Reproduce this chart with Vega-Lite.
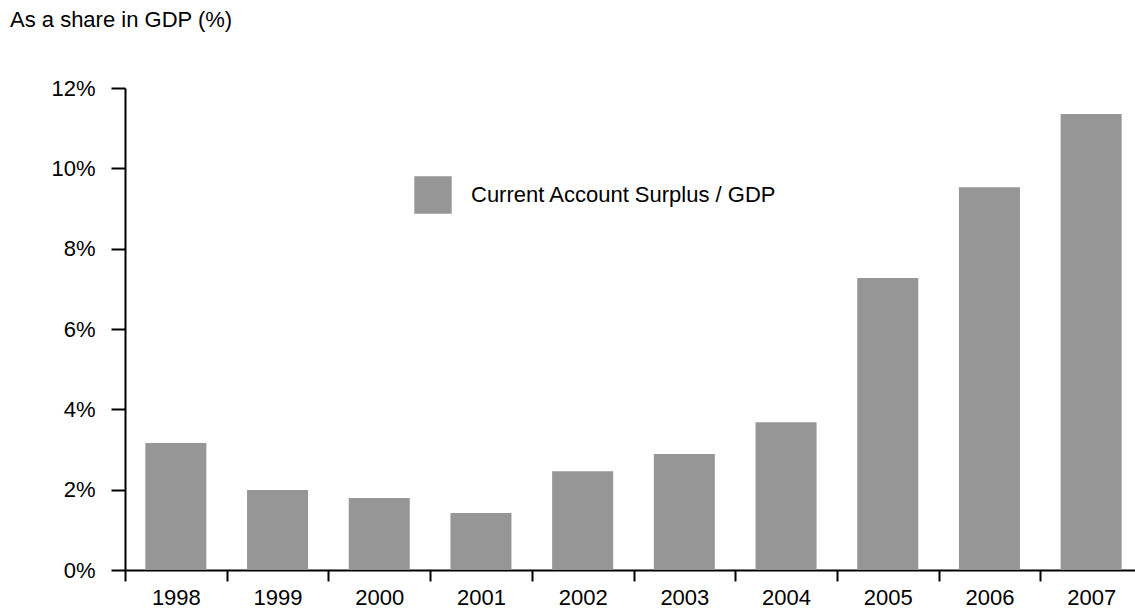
{
  "$schema": "https://vega.github.io/schema/vega-lite/v6.json",
  "autosize": "none",
  "width": 1010,
  "height": 482,
  "padding": {"left": 125, "top": 88, "right": 0, "bottom": 39},
  "background": "white",
  "config": {
    "font": "Liberation Sans",
    "view": {"stroke": null},
    "axis": {"grid": false, "domainColor": "#000000", "tickColor": "#000000", "domainWidth": 2, "tickWidth": 2, "labelColor": "#000000", "labelFontSize": 22, "labelFont": "Liberation Sans"}
  },
  "title": {
    "text": "As a share in GDP (%)",
    "anchor": "start",
    "frame": "group",
    "dx": -115,
    "offset": 45,
    "fontSize": 22,
    "fontWeight": "normal",
    "color": "#000000",
    "font": "Liberation Sans"
  },
  "data": {
    "values": [
      {"year": "1998", "share": 3.16, "series": "Current Account Surplus / GDP"},
      {"year": "1999", "share": 1.99, "series": "Current Account Surplus / GDP"},
      {"year": "2000", "share": 1.79, "series": "Current Account Surplus / GDP"},
      {"year": "2001", "share": 1.42, "series": "Current Account Surplus / GDP"},
      {"year": "2002", "share": 2.46, "series": "Current Account Surplus / GDP"},
      {"year": "2003", "share": 2.89, "series": "Current Account Surplus / GDP"},
      {"year": "2004", "share": 3.68, "series": "Current Account Surplus / GDP"},
      {"year": "2005", "share": 7.27, "series": "Current Account Surplus / GDP"},
      {"year": "2006", "share": 9.53, "series": "Current Account Surplus / GDP"},
      {"year": "2007", "share": 11.35, "series": "Current Account Surplus / GDP"}
    ]
  },
  "mark": {"type": "bar", "width": {"band": 0.6}},
  "encoding": {
    "x": {
      "field": "year",
      "type": "ordinal",
      "scale": {"range": [0, 1017], "paddingInner": 0, "paddingOuter": 0},
      "axis": {"title": null, "labelAngle": 0, "tickBand": "extent", "tickSize": 11, "labelPadding": 6}
    },
    "y": {
      "field": "share",
      "type": "quantitative",
      "scale": {"domain": [0, 12], "nice": false},
      "axis": {"title": null, "values": [0, 2, 4, 6, 8, 10, 12], "labelExpr": "datum.value + '%'", "tickSize": 14, "labelPadding": 16}
    },
    "color": {
      "field": "series",
      "type": "nominal",
      "scale": {"range": ["#969696"]},
      "legend": {
        "title": null,
        "orient": "none",
        "legendX": 289,
        "legendY": 88,
        "symbolType": "square",
        "symbolSize": 1400,
        "symbolStrokeWidth": 0,
        "symbolOpacity": 1,
        "labelFontSize": 22,
        "labelColor": "#000000",
        "labelOffset": 19,
        "labelLimit": 0,
        "labelFont": "Liberation Sans"
      }
    }
  }
}
